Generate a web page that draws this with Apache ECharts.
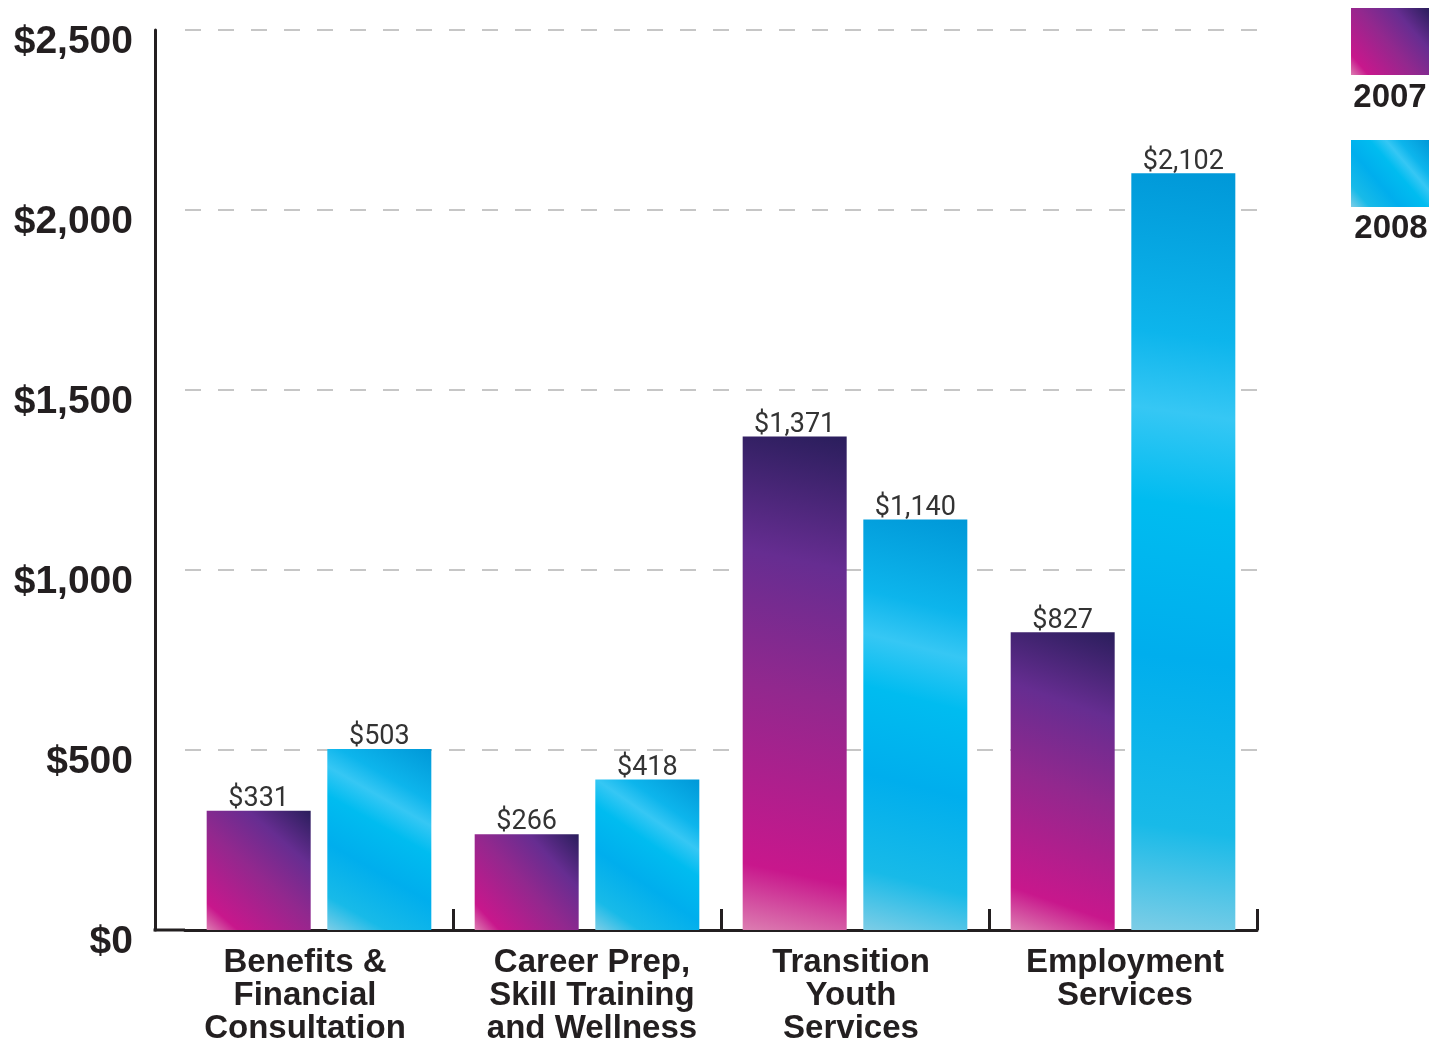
<!DOCTYPE html>
<html>
<head>
<meta charset="utf-8">
<title>Program spending, 2007 vs 2008</title>
<script src="https://cdn.jsdelivr.net/npm/echarts@6/dist/echarts.min.js"></script>
<style>
  html, body { margin: 0; padding: 0; background: #ffffff; }
  #chart { width: 1447px; height: 1042px; }
</style>
</head>
<body>
<div id="chart"></div>
<script>
// ---- data ----
const categories = [
  'Benefits &\nFinancial\nConsultation',
  'Career Prep,\nSkill Training\nand Wellness',
  'Transition\nYouth\nServices',
  'Employment\nServices'
];
const years = ['2007', '2008'];
const values2007 = [331, 266, 1371, 827];
const values2008 = [503, 418, 1140, 2102];
const yMin = 0;
const yMax = 2500;
const yStep = 500;

// ---- styling ----
const INK = '#231f20';
const GRID_LEFT = 185;
const AXIS_OFFSET = 30;
const BOLD_FONT = '"Liberation Sans", Arial, sans-serif';

const money = v => '$' + Number(v).toLocaleString('en-US');

const purpleFill = {
  type: 'linear', x: 0, y: 1, x2: 1, y2: 0,
  colorStops: [
    { offset: 0.00, color: '#dc7db1' },
    { offset: 0.13, color: '#c8178c' },
    { offset: 0.48, color: '#92288e' },
    { offset: 0.74, color: '#662d91' },
    { offset: 1.00, color: '#2a1e5c' }
  ]
};
const cyanFill = {
  type: 'linear', x: 0, y: 1, x2: 1, y2: 0,
  colorStops: [
    { offset: 0.00, color: '#7dcde6' },
    { offset: 0.14, color: '#18bae8' },
    { offset: 0.36, color: '#00aeed' },
    { offset: 0.56, color: '#00bcf0' },
    { offset: 0.68, color: '#36c7f4' },
    { offset: 0.78, color: '#0db5ec' },
    { offset: 1.00, color: '#0098d8' }
  ]
};

const barLabel = {
  show: true,
  position: 'top',
  distance: -2,
  formatter: p => money(p.value),
  fontFamily: 'Roboto',
  fontWeight: 400,
  fontSize: 27,
  color: '#333333'
};

// Category captions: the first one is centred between the y-axis line and the first tick,
// the others are nudged slightly off their band centres.
const catBase = { color: INK, fontFamily: BOLD_FONT, fontWeight: 'bold', fontSize: 33, lineHeight: 33 };
const catStyles = ['c0', 'c1', 'c2', 'c3'];
const catLabel = (value, index) =>
  value.split('\n').map(line => '{' + catStyles[index] + '|' + line + '}').join('\n');

const chart = echarts.init(document.getElementById('chart'), null, { renderer: 'canvas' });

chart.setOption({
  animation: false,
  backgroundColor: '#ffffff',
  grid: {
    left: GRID_LEFT, right: 190, top: 30, bottom: 112,
    containLabel: false, outerBoundsMode: 'none'
  },
  legend: {
    data: years,
    orient: 'vertical',
    right: 18,
    top: 8,
    padding: 0,
    itemWidth: 78,
    itemHeight: 67,
    itemGap: 65,
    icon: 'rect',
    selectedMode: false,
    formatter: () => '',
    textStyle: { fontSize: 1 }
  },
  xAxis: {
    type: 'category',
    data: categories,
    boundaryGap: true,
    axisLine: { show: true, lineStyle: { color: INK, width: 3 } },
    axisTick: {
      show: true,
      inside: true,
      length: 21,
      interval: (idx) => idx !== 0,
      lineStyle: { color: INK, width: 3 }
    },
    axisLabel: {
      interval: 0,
      margin: 16,
      formatter: catLabel,
      color: INK,
      fontFamily: BOLD_FONT,
      fontWeight: 'bold',
      fontSize: 33,
      lineHeight: 33,
      rich: {
        c0: Object.assign({}, catBase, { padding: [0, 28, 0, 0] }),
        c1: Object.assign({}, catBase, { padding: [0, 0, 0, 10] }),
        c2: Object.assign({}, catBase, { padding: [0, 8, 0, 0] }),
        c3: Object.assign({}, catBase, { padding: [0, 0, 0, 4] })
      }
    },
    splitLine: { show: false }
  },
  yAxis: {
    type: 'value',
    min: yMin,
    max: yMax,
    interval: yStep,
    offset: AXIS_OFFSET,
    axisLine: { show: true, lineStyle: { color: INK, width: 3 } },
    axisTick: { show: false },
    axisLabel: {
      formatter: money,
      margin: 22,
      color: INK,
      fontFamily: BOLD_FONT,
      fontWeight: 'bold',
      fontSize: 39,
      verticalAlign: 'top',
      lineHeight: 24
    },
    splitLine: {
      show: true,
      lineStyle: { color: '#c6c6c6', width: 2, type: [16, 17] }
    }
  },
  series: [
    {
      name: years[0],
      type: 'bar',
      data: values2007,
      barWidth: 104,
      barGap: '16%',
      itemStyle: { color: purpleFill },
      label: barLabel,
      emphasis: { disabled: true }
    },
    {
      name: years[1],
      type: 'bar',
      data: values2008,
      barWidth: 104,
      barGap: '16%',
      itemStyle: { color: cyanFill },
      label: barLabel,
      emphasis: { disabled: true }
    }
  ]
});

// Join the offset y-axis line to the start of the x-axis line, and caption the legend swatches below them.
const baseY = chart.convertToPixel({ yAxisIndex: 0 }, yMin);
chart.setOption({
  graphic: [
    {
      type: 'line',
      shape: { x1: GRID_LEFT - AXIS_OFFSET - 1.5, y1: baseY, x2: GRID_LEFT, y2: baseY },
      style: { stroke: INK, lineWidth: 3 },
      z: 10
    },
    {
      type: 'text',
      style: {
        text: years[0], x: 1390, y: 98, align: 'center', verticalAlign: 'middle',
        font: 'bold 33px "Liberation Sans", Arial, sans-serif', fill: INK
      }
    },
    {
      type: 'text',
      style: {
        text: years[1], x: 1391, y: 229, align: 'center', verticalAlign: 'middle',
        font: 'bold 33px "Liberation Sans", Arial, sans-serif', fill: INK
      }
    }
  ]
});
</script>
</body>
</html>
